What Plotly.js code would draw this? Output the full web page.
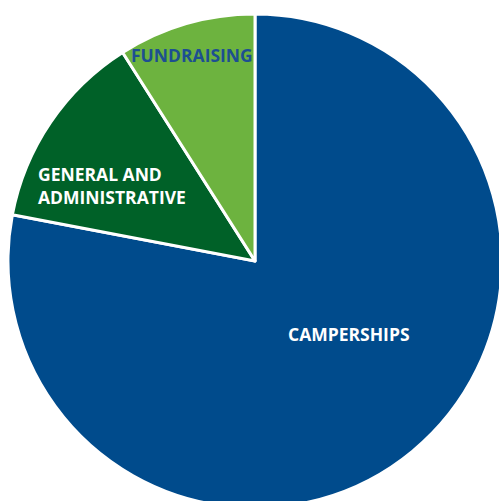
<!DOCTYPE html>
<html>
<head>
<meta charset="utf-8">
<script src="https://cdn.plot.ly/plotly-3.0.1.min.js"></script>
<style>html,body{margin:0;padding:0;background:#fff;overflow:hidden;}#chart{width:510px;height:515px;}</style>
</head>
<body>
<div id="chart"></div>
<script>
const categories = ["CAMPERSHIPS", "GENERAL AND<br>ADMINISTRATIVE", "FUNDRAISING"];
const values = [78, 13, 9];
const colors = ["#004B8C", "#006128", "#6DB33F"];
const labelColors = ["#ffffff", "#ffffff", "#1D4F91"];

const W = 510, H = 515;

const trace = {
  type: "pie",
  labels: categories,
  values: values,
  sort: false,
  direction: "clockwise",
  rotation: 0,
  textinfo: "none",
  hoverinfo: "label+percent",
  marker: {colors: colors, line: {color: "#ffffff", width: 3}},
  domain: {x: [8 / W, 502 / W], y: [7 / H, 501 / H]},
  showlegend: false
};

const labelPos = [
  {x: 349 / W, y: 1 - 334 / H, xanchor: "center"},
  {x: 36 / W, y: 1 - 185 / H, xanchor: "left"},
  {x: 192 / W, y: 1 - 55 / H, xanchor: "center"}
];

const annotations = categories.map((c, i) => ({
  text: "<b>" + c + "</b>",
  x: labelPos[i].x, y: labelPos[i].y,
  xref: "paper", yref: "paper",
  xanchor: labelPos[i].xanchor, yanchor: "middle",
  align: "left",
  showarrow: false,
  font: {family: "Open Sans, sans-serif", size: 17.5, color: labelColors[i]}
}));

Plotly.newPlot("chart", [trace], {
  width: W, height: H,
  margin: {l: 0, r: 0, t: 0, b: 0},
  paper_bgcolor: "#ffffff",
  annotations: annotations
}, {displayModeBar: false, staticPlot: true});
</script>
</body>
</html>
